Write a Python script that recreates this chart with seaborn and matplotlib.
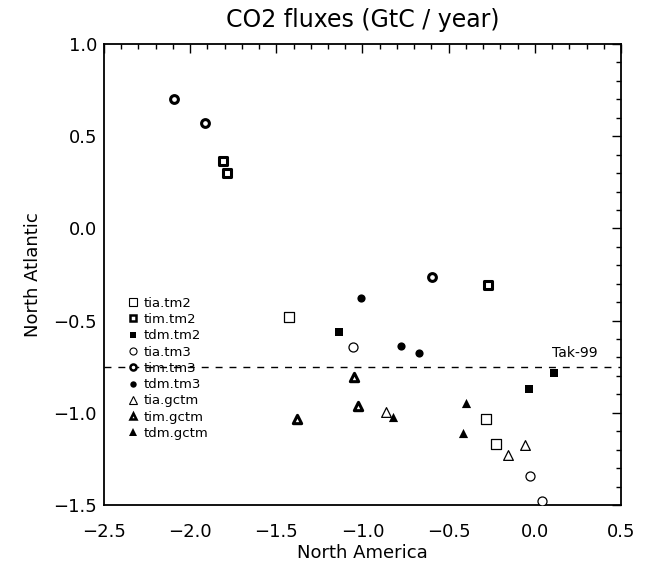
import matplotlib
matplotlib.use("Agg")
import matplotlib.pyplot as plt
import seaborn as sns
from matplotlib.lines import Line2D
from matplotlib.ticker import MultipleLocator

# ---- data ----
series = ["tia.tm2", "tim.tm2", "tdm.tm2",
          "tia.tm3", "tim.tm3", "tdm.tm3",
          "tia.gctm", "tim.gctm", "tdm.gctm"]

tia_tm2_x = [-1.427, -0.283, -0.225]
tia_tm2_y = [-0.479, -1.035, -1.169]
tim_tm2_x = [-1.811, -1.785, -0.273]
tim_tm2_y = [0.366, 0.299, -0.307]
tdm_tm2_x = [-1.135, 0.113, -0.032]
tdm_tm2_y = [-0.564, -0.782, -0.873]
tia_tm3_x = [-1.057, -0.028, 0.040]
tia_tm3_y = [-0.645, -1.343, -1.480]
tim_tm3_x = [-2.094, -1.914, -0.595]
tim_tm3_y = [0.702, 0.573, -0.262]
tdm_tm3_x = [-1.010, -0.777, -0.672]
tdm_tm3_y = [-0.376, -0.638, -0.677]
tia_gctm_x = [-0.865, -0.156, -0.059]
tia_gctm_y = [-0.997, -1.229, -1.175]
tim_gctm_x = [-1.049, -1.024, -1.382]
tim_gctm_y = [-0.804, -0.963, -1.034]
tdm_gctm_x = [-0.825, -0.401, -0.419]
tdm_gctm_y = [-1.021, -0.949, -1.108]

tak99_value = -0.75
tak99_label = "Tak-99"

title = "CO2 fluxes (GtC / year)"
xlabel = "North America"
ylabel = "North Atlantic"

xs = [tia_tm2_x, tim_tm2_x, tdm_tm2_x, tia_tm3_x, tim_tm3_x, tdm_tm3_x,
      tia_gctm_x, tim_gctm_x, tdm_gctm_x]
ys = [tia_tm2_y, tim_tm2_y, tdm_tm2_y, tia_tm3_y, tim_tm3_y, tdm_tm3_y,
      tia_gctm_y, tim_gctm_y, tdm_gctm_y]

# ---- styling ----
sns.set_style("white")
plt.rcParams["font.family"] = ["DejaVu Sans"]
plt.rcParams["text.color"] = "black"
plt.rcParams["axes.labelcolor"] = "black"
plt.rcParams["xtick.color"] = "black"
plt.rcParams["ytick.color"] = "black"

marker_for = {"tm2": "s", "tm3": "o", "gctm": "^"}
size_for = {  # marker size in points
    ("tia", "tm2"): 6.5, ("tim", "tm2"): 5.8, ("tdm", "tm2"): 6.4,
    ("tia", "tm3"): 6.5, ("tim", "tm3"): 5.6, ("tdm", "tm3"): 5.9,
    ("tia", "gctm"): 7.0, ("tim", "gctm"): 6.0, ("tdm", "gctm"): 6.6,
}

fig = plt.figure(figsize=(6.48, 5.65), dpi=100)
ax = fig.add_axes([104 / 648, 1 - 505 / 565, 517 / 648, 461 / 565])

handles = []
for name, x, y in zip(series, xs, ys):
    kind, model = name.split(".")
    m = marker_for[model]
    ms = size_for[(kind, model)]
    if kind == "tia":
        face, lw, lws = "white", 0.9, 0.8
    elif kind == "tim":
        face, lw, lws = "white", 2.2, 1.8
    else:
        face, lw, lws = "black", 0.0, 0.0
    sns.scatterplot(x=x, y=y, marker=m, s=ms ** 2, color=face,
                    edgecolor="black", linewidth=lw, ax=ax, zorder=3)
    handles.append(Line2D([], [], ls="none", marker=m, markersize=ms * 0.78,
                          markerfacecolor=face, markeredgecolor="black",
                          markeredgewidth=lws, label=name))

ax.axhline(tak99_value, color="black", lw=1.0, ls=(0, (5, 5)), zorder=2)
ax.text(0.10, -0.677, tak99_label, fontsize=10, ha="left", va="center",
        color="black")

ax.set_xlim(-2.5, 0.5)
ax.set_ylim(-1.5, 1.0)
ax.xaxis.set_major_locator(MultipleLocator(0.5))
ax.xaxis.set_minor_locator(MultipleLocator(0.1))
ax.yaxis.set_major_locator(MultipleLocator(0.5))
ax.yaxis.set_minor_locator(MultipleLocator(0.1))
ax.set_xticklabels([f"{v:.1f}".replace("-", "\u2212") for v in ax.get_xticks()])
ax.set_yticklabels([f"{v:.1f}".replace("-", "\u2212") for v in ax.get_yticks()])

ax.tick_params(which="both", direction="in", top=True, right=True,
               color="black", width=1.0)
ax.tick_params(which="major", length=6.5)
ax.tick_params(which="minor", length=3.5)
ax.tick_params(axis="x", which="major", pad=13, labelsize=13)
ax.tick_params(axis="y", which="major", pad=5, labelsize=13)

for sp in ax.spines.values():
    sp.set_color("black")
    sp.set_linewidth(1.3)

ax.set_title(title, fontsize=17, pad=12, color="black")
ax.set_xlabel(xlabel, fontsize=13, labelpad=2)
ax.set_ylabel(ylabel, fontsize=13, labelpad=8)

leg = ax.legend(handles=handles, loc="upper left",
                bbox_to_anchor=(0.045, 0.452),
                frameon=False, fontsize=9.5,
                handlelength=0.8, handletextpad=0.45, labelspacing=0.25,
                borderpad=0, borderaxespad=0)
for t in leg.get_texts():
    t.set_color("black")

fig.savefig("out.png", dpi=100)
